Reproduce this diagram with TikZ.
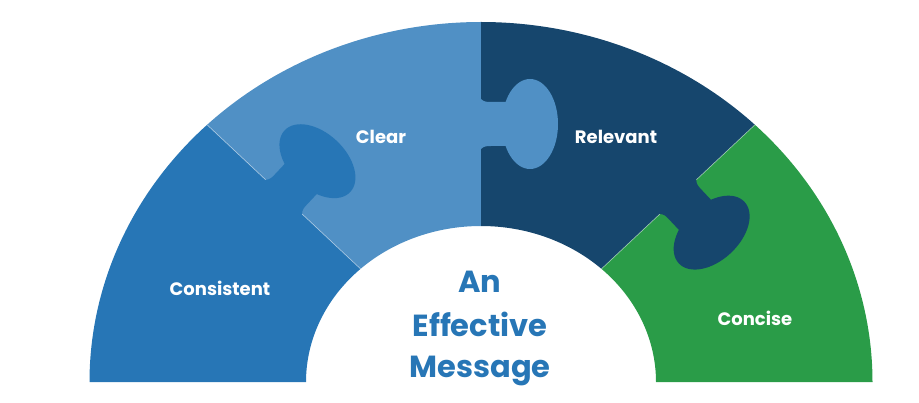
\documentclass[tikz,border=0pt]{standalone}
\usepackage{fontspec}
\setmainfont{Poppins}
\definecolor{cConsistent}{RGB}{39,118,182}
\definecolor{cClear}{RGB}{80,144,197}
\definecolor{cRelevant}{RGB}{22,70,109}
\definecolor{cConcise}{RGB}{42,156,72}
\newcommand{\puzzleknob}[3]{%
\begin{scope}[shift={#1}, rotate=#2]
\fill[#3] (-1,-25) -- (0,-25) .. controls (3,-22) and (6,-22) .. (10,-22) -- (27,-22) -- (27,22) -- (10,22) .. controls (6,22) and (3,22) .. (0,25) -- (-1,25) -- cycle;
\fill[#3] (49,0) ellipse[x radius=28, y radius=45];
\end{scope}}
\begin{document}
\begin{tikzpicture}[x=1pt,y=1pt,
  lbl/.style={text=white,font=\bfseries\fontsize{18}{21}\selectfont,inner sep=0pt},
  ctr/.style={text=cConsistent,font=\bfseries\fontsize{30.5}{36}\selectfont,inner sep=0pt,anchor=base},
  seam/.style={white,opacity=0.45,line width=0.7pt}]
\useasboundingbox (0,0) rectangle (919,402);
\begin{scope}[shift={(481,20)}]
% sectors
\fill[cConsistent] (180:391.5 and 360) arc[start angle=180,end angle=134.4,x radius=391.5,y radius=360]
  -- (133.5:175 and 156) arc[start angle=133.5,end angle=180,x radius=175,y radius=156] -- cycle;
\fill[cClear] (134.4:391.5 and 360) arc[start angle=134.4,end angle=90,x radius=391.5,y radius=360]
  -- (90:175 and 156) arc[start angle=90,end angle=133.5,x radius=175,y radius=156] -- cycle;
\fill[cRelevant] (90:391.5 and 360) arc[start angle=90,end angle=45.6,x radius=391.5,y radius=360]
  -- (46.5:175 and 156) arc[start angle=46.5,end angle=90,x radius=175,y radius=156] -- cycle;
\fill[cConcise] (45.6:391.5 and 360) arc[start angle=45.6,end angle=0,x radius=391.5,y radius=360]
  -- (0:175 and 156) arc[start angle=0,end angle=46.5,x radius=175,y radius=156] -- cycle;
% seams
\coordinate (m1) at (136.8:270.4);
\coordinate (m3) at (43.2:270.4);
\begin{scope}[shift={(m1)},rotate=46.8]
\draw[seam] (0,105.2) -- (0,25);
\draw[seam] (0,-25) -- (0,-105.2);
\end{scope}
\begin{scope}[shift={(m3)},rotate=-46.8]
\draw[seam] (0,105.2) -- (0,25);
\draw[seam] (0,-25) -- (0,-105.2);
\end{scope}
% knobs
\puzzleknob{(m1)}{46.8}{cConsistent}
\puzzleknob{(0,258)}{0}{cClear}
\puzzleknob{(m3)}{-46.8}{cRelevant}
% labels
\node[lbl] (clear) at (-100,245) {Clear};
\node[lbl] (relevant) at (135,245) {Relevant};
\node[lbl] (consistent) at (-261,94) {Consistent};
\node[lbl] (concise) at (274,64) {Concise};
\node[ctr] (t1) at (-1,89) {An};
\node[ctr] (t2) at (-1,45) {Effective};
\node[ctr] (t3) at (-1,4) {Message};
\end{scope}
\end{tikzpicture}
\end{document}
